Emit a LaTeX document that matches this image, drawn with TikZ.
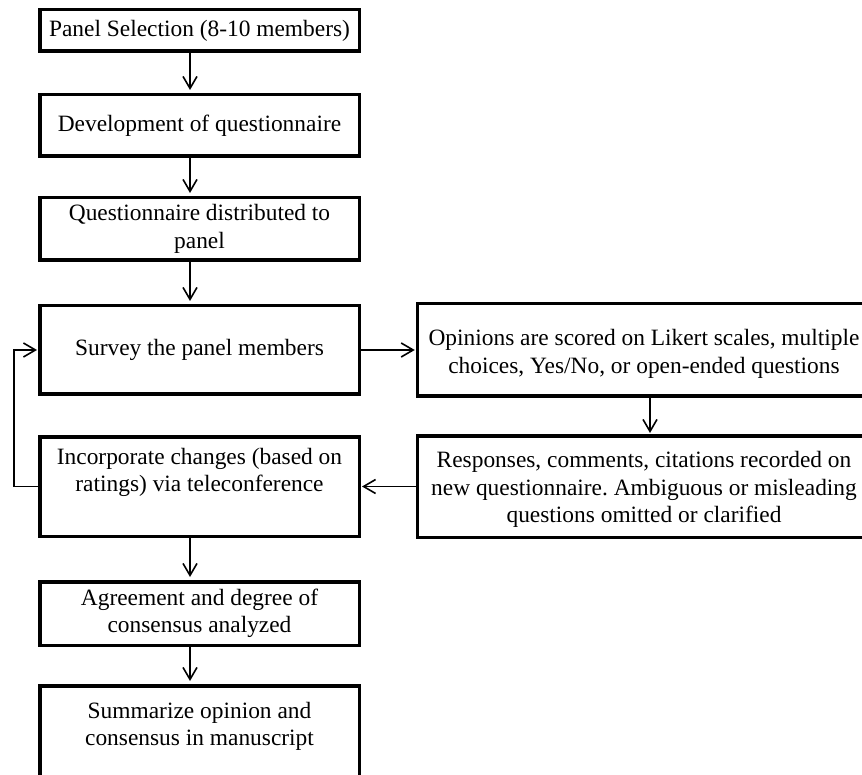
\documentclass[tikz,border=0pt]{standalone}
\usepackage{fontspec}
\setmainfont{Liberation Serif}
\usetikzlibrary{arrows.meta,positioning}
\tikzset{
  dl/box/.style={
    draw=black, line width=3.5pt, fill=white, align=center, inner sep=4pt,
    font=\fontsize{23.4}{27.5}\selectfont\frenchspacing, minimum width=319.5pt
  },
  dl/wide/.style={dl/box, minimum width=470pt},
  dl/txt/.style={align=center, inner sep=0pt, font=\fontsize{23.4}{27.5}\selectfont\frenchspacing},
  dl/arr/.style={-{Straight Barb[length=12pt,width=14pt]}, black, line width=1.6pt, shorten >=1pt}
}
\begin{document}
\begin{tikzpicture}[x=1pt, y=-1pt]
  \useasboundingbox (0,0) rectangle (862,775);
  \node[dl/box, minimum height=41.5pt] (sel) at (199.5,30.5)
    {Panel Selection (8-10 members)};
  \node[dl/box, minimum height=61.5pt, below=40pt of sel] (dev)
    {Development of questionnaire};
  \node[dl/box, minimum height=62.5pt, below=38pt of dev] (dist)
    {Questionnaire distributed to\\panel};
  \node[dl/box, minimum height=88.5pt, below=42pt of dist] (srv)
    {Survey the panel members};
  \node[dl/box, minimum height=99.5pt, text depth=33pt, below=39pt of srv] (inc)
    {Incorporate changes (based on\\ratings) via teleconference};
  \node[dl/box, minimum height=63.5pt, below=42pt of inc] (agr)
    {Agreement and degree of\\consensus analyzed};
  \node[dl/box, minimum height=100pt, text depth=24pt, below=37pt of agr] (summ)
    {Summarize opinion and\\consensus in manuscript};

  % right column, running past the page edge
  \node[dl/wide, minimum height=92.5pt, right=54.75pt of srv] (opn) {};
  \node[dl/txt] (opntxt) at ([xshift=-8.5pt, yshift=-4pt]opn.center)
    {Opinions are scored on Likert scales, multiple\\choices, Yes/No, or open-ended questions};
  \node[dl/wide, minimum height=101.5pt, right=54.75pt of inc] (resp) {};
  \node[dl/txt] (resptxt) at ([xshift=-8.5pt, yshift=-3pt]resp.center)
    {Responses, comments, citations recorded on\\new questionnaire. Ambiguous or misleading\\questions omitted or clarified};

  \draw[dl/arr, shorten >=3pt] ([xshift=-9.5pt]sel.south) -- ([xshift=-9.5pt]dev.north);
  \draw[dl/arr, shorten >=3pt] ([xshift=-9.5pt]dev.south) -- ([xshift=-9.5pt]dist.north);
  \draw[dl/arr, shorten >=3pt] ([xshift=-9.5pt]dist.south) -- ([xshift=-9.5pt]srv.north);
  \draw[dl/arr] (srv) -- (opn);
  \draw[dl/arr] ([xshift=-2.5pt]opn.south) -- ([xshift=-2.5pt]resp.north);
  \draw[dl/arr] (resp) -- (inc);
  \draw[dl/arr] (inc.west) -- ++(-24.25,0) |- (srv.west);
  \draw[dl/arr, shorten >=3pt] ([xshift=-9.5pt]inc.south) -- ([xshift=-9.5pt]agr.north);
  \draw[dl/arr, shorten >=3pt] ([xshift=-9.5pt]agr.south) -- ([xshift=-9.5pt]summ.north);
\end{tikzpicture}
\end{document}
